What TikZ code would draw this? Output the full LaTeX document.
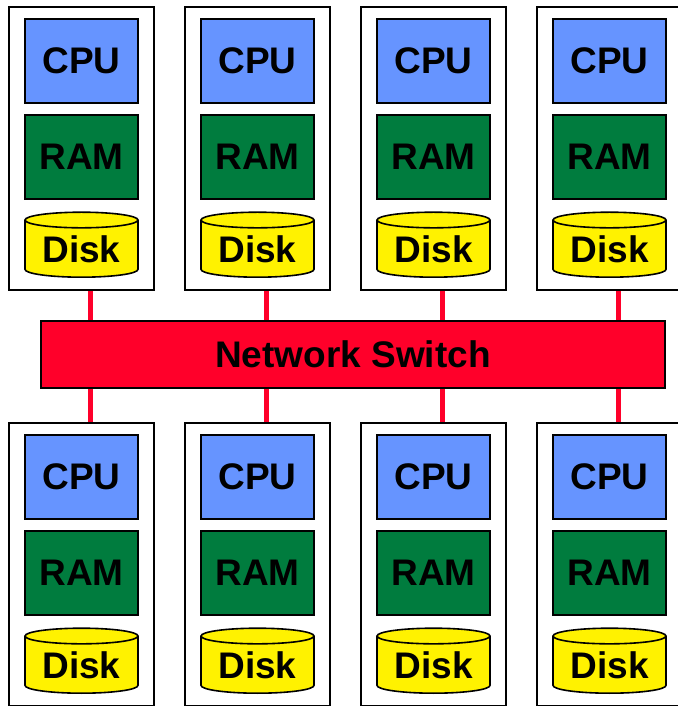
\documentclass[tikz,border=0pt]{standalone}
\usepackage{fontspec}
\setmainfont{Liberation Sans}
\usetikzlibrary{shapes.geometric}
\definecolor{cpublue}{RGB}{102,148,255}
\definecolor{ramgreen}{RGB}{0,124,62}
\definecolor{switchred}{RGB}{255,0,42}
\begin{document}
\begin{tikzpicture}[x=1pt,y=-1pt,
  every node/.style={font=\fontsize{37}{37}\selectfont\bfseries,inner sep=0pt},
  machine/.style={draw,line width=1.6pt,minimum width=145,minimum height=283},
  cpu/.style={draw,line width=1.6pt,fill=cpublue,minimum width=113,minimum height=84},
  ram/.style={draw,line width=1.6pt,fill=ramgreen,minimum width=113,minimum height=84},
  disk/.style={draw,line width=1.6pt,fill=yellow,cylinder,shape border rotate=90,aspect=0.2,minimum width=113,minimum height=65},
  link/.style={switchred,line width=5pt}]
\useasboundingbox (0,0) rectangle (677,706);
\node[draw,line width=1.6pt,fill=switchred,minimum width=624,minimum height=67](switch) at (353,354.5){Network Switch};
\foreach \i in {0,...,3}{
  \foreach \r/\dy in {t/0,b/416}{
    \node[machine](box-\r\i) at (81.5+176*\i,148.5+\dy){};
    \node[cpu](cpu-\r\i) at (81.5+176*\i,61+\dy){CPU};
    \node[ram](ram-\r\i) at (81.5+176*\i,157+\dy){RAM};
    \node[disk](disk-\r\i) at (81.5+176*\i,249+\dy){Disk};
  }
  \coordinate(tap\i) at (90+176*\i,354.5);
  \draw[link](box-t\i.south -| tap\i)--(switch.north -| tap\i);
  \draw[link](switch.south -| tap\i)--(box-b\i.north -| tap\i);
}
\end{tikzpicture}
\end{document}
